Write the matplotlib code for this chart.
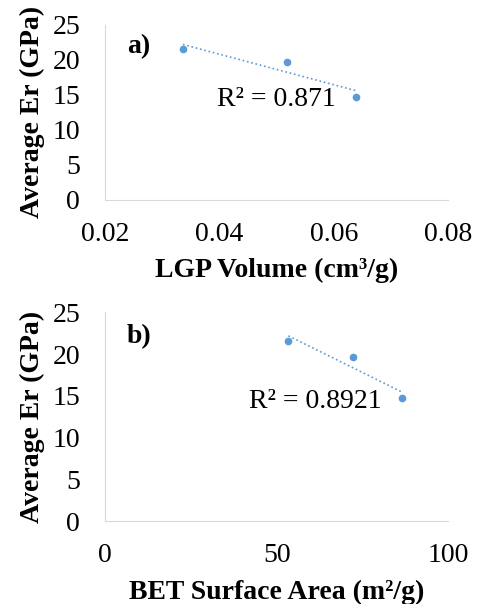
import numpy as np
import matplotlib
matplotlib.use('Agg')
import matplotlib.pyplot as plt

# Average reduced modulus vs pore volume / surface area
er_avg = [21.6, 19.7, 14.7]
lgp_vol = [0.0336, 0.0518, 0.0639]
bet_area = [53.4, 72.2, 86.5]

r2_a = 'R² = 0.871'
r2_b = 'R² = 0.8921'

blue = '#5b9bd5'
plt.rcParams['font.family'] = ['Liberation Serif', 'DejaVu Serif']

fig = plt.figure(figsize=(4.8, 6.04), dpi=100)
ax1 = fig.add_axes([0.219, 0.669, 0.715, 0.290])
ax2 = fig.add_axes([0.219, 0.137, 0.715, 0.346])


def panel(ax, x, y, xlim, xticks, xlabel, tag, r2, r2pos):
    ax.plot(x, y, 'o', color=blue, ms=4.5, zorder=3)
    # linear trendline over the data span
    p = np.polyfit(x, y, 1)
    xx = np.array([min(x), max(x)])
    ax.plot(xx, np.polyval(p, xx), ':', color=blue, lw=1.2)
    ax.set_xlim(xlim)
    ax.set_ylim(0, 25)
    ax.set_xticks(xticks)
    ax.set_yticks([0, 5, 10, 15, 20, 25])
    ax.tick_params(length=0, labelsize=20, pad=16)
    ax.tick_params(axis='y', pad=18)
    for s in ['top', 'right']:
        ax.spines[s].set_visible(False)
    for s in ['left', 'bottom']:
        ax.spines[s].set_color('#d9d9d9')
    ax.set_xlabel(xlabel, fontsize=20, fontweight='bold', labelpad=8)
    ax.set_ylabel('Average Er (GPa)', fontsize=20, fontweight='bold', labelpad=5)
    ax.text(0.064, tag[1], tag[0], transform=ax.transAxes, fontsize=20,
            fontweight='bold', va='center')
    ax.text(r2pos[0], r2pos[1], r2, transform=ax.transAxes, fontsize=20, va='center')


panel(ax1, lgp_vol, er_avg, (0.02, 0.08), [0.02, 0.04, 0.06, 0.08],
      'LGP Volume (cm³/g)', ('a)', 0.874), r2_a, (0.327, 0.571))
ax1.xaxis.set_major_formatter(matplotlib.ticker.FormatStrFormatter('%.2f'))
panel(ax2, bet_area, er_avg, (0, 100), [0, 50, 100],
      'BET Surface Area (m²/g)', ('b)', 0.885), r2_b, (0.42, 0.571))

fig.savefig('out.png', dpi=100)
